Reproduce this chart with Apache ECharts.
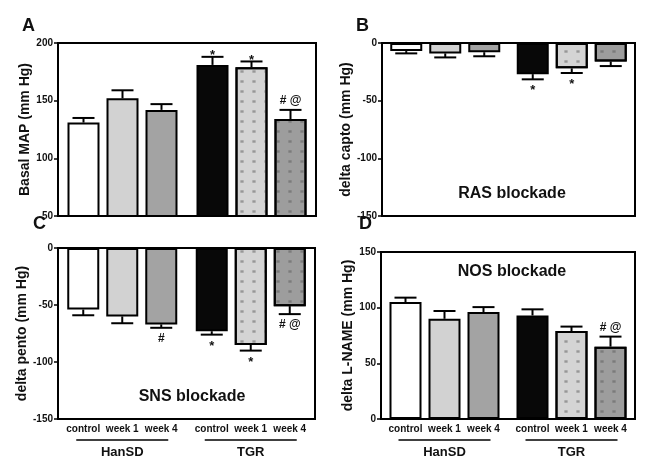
<!DOCTYPE html>
<html><head><meta charset="utf-8">
<script src="https://cdn.jsdelivr.net/npm/echarts@6/dist/echarts.min.js"></script>
<style>html,body{margin:0;padding:0;background:#fff}#c{width:649px;height:471px}</style>
</head><body><div id="c"></div>
<script>
// ---- data (order: HanSD control, week 1, week 4, TGR control, week 1, week 4)
const groups = ['HanSD', 'TGR'];
const timepoints = ['control', 'week 1', 'week 4'];

const mapValues = [131, 152, 142, 181, 179, 134];
const mapErrors = [4, 7, 5, 7, 5, 8];
const mapMarks = ['', '', '', '*', '*', '# @'];

const captoValues = [-7, -9, -8, -27, -22, -16];
const captoErrors = [2, 3.5, 3.5, 4.5, 4, 4];
const captoMarks = ['', '', '', '*', '*', ''];

const pentoValues = [-54, -60, -67, -73, -85, -51];
const pentoErrors = [5, 6, 3, 3, 5, 7];
const pentoMarks = ['', '', '#', '*', '*', '# @'];

const lnameValues = [105, 90, 96, 93, 79, 65];
const lnameErrors = [4, 7, 4.5, 5.5, 4, 9];
const lnameMarks = ['', '', '', '', '', '# @'];

const yTicksA = [50, 200, 50];
const yTicksB = [-150, 0, 50];
const yTicksC = [-150, 0, 50];
const yTicksD = [0, 150, 50];

// ---- styling
const FONT = 'Liberation Sans, Arial, sans-serif';
const fills = ['#ffffff', '#d2d2d2', '#a3a3a3', '#080808', '#d4d4d4', '#9d9d9d'];
const dotted = [false, false, false, false, true, true];
const decal = {symbol: 'rect', symbolSize: 0.8, dashArrayX: [4, 8], dashArrayY: [3, 7], color: 'rgba(90,90,90,0.5)'};
const BW = 32, GAP = 7;

const panels = [
  {vals: mapValues, errs: mapErrors, marks: mapMarks, ticks: yTicksA, name: 'Basal MAP (mm Hg)', gap: 19.5,
   grid: {left: 58, right: 333, top: 43, bottom: 255}, xlabels: false},
  {vals: captoValues, errs: captoErrors, marks: captoMarks, ticks: yTicksB, name: 'delta capto (mm Hg)', gap: 24,
   grid: {left: 382, right: 14, top: 43, bottom: 255}, xlabels: false},
  {vals: pentoValues, errs: pentoErrors, marks: pentoMarks, ticks: yTicksC, name: 'delta pento (mm Hg)', gap: 23,
   grid: {left: 58, right: 334, top: 248, bottom: 52}, xlabels: true},
  {vals: lnameValues, errs: lnameErrors, marks: lnameMarks, ticks: yTicksD, name: 'delta L-NAME (mm Hg)', gap: 19,
   grid: {left: 381, right: 14, top: 252, bottom: 52}, xlabels: true}
];

const grid = [], xAxis = [], yAxis = [], series = [];
panels.forEach((p, pi) => {
  grid.push(Object.assign({show: true, borderColor: '#000', borderWidth: 2, containLabel: false}, p.grid));
  xAxis.push({type: 'category', gridIndex: pi, data: groups, position: 'bottom',
    axisLine: {onZero: false, lineStyle: {color: '#000', width: 2}}, axisTick: {show: false},
    axisLabel: {show: p.xlabels, margin: 27, fontFamily: FONT, fontWeight: 'bold', fontSize: 13, color: '#111'}});
  yAxis.push({type: 'value', gridIndex: pi, min: p.ticks[0], max: p.ticks[1], interval: p.ticks[2],
    name: p.name, nameLocation: 'middle', nameGap: p.gap,
    nameTextStyle: {fontFamily: FONT, fontWeight: 'bold', fontSize: 14, color: '#111'},
    axisLine: {show: true, lineStyle: {color: '#000', width: 2}},
    axisTick: {show: true, length: 4, lineStyle: {color: '#000', width: 1.5}},
    axisLabel: {fontFamily: FONT, fontWeight: 'bold', fontSize: 10, color: '#111', margin: 5},
    splitLine: {show: false}});
  timepoints.forEach((t, k) => {
    const data = groups.map((g, gi) => {
      const i = gi * 3 + k;
      const st = {color: fills[i], borderColor: '#000', borderWidth: 2};
      if (dotted[i]) st.decal = decal;
      return {value: p.vals[i], itemStyle: st};
    });
    series.push({type: 'bar', name: t, xAxisIndex: pi, yAxisIndex: pi, data: data,
      barWidth: BW, barGap: (GAP / BW * 100) + '%', z: 2});
    // error bars, significance marks and timepoint labels
    series.push({type: 'custom', xAxisIndex: pi, yAxisIndex: pi, clip: false, z: 3,
      data: groups.map((g, gi) => [gi, p.vals[gi * 3 + k], p.errs[gi * 3 + k]]),
      renderItem: (params, api) => {
        const gi = api.value(0), v = api.value(1), e = api.value(2);
        const i = gi * 3 + k;
        const off = (k - 1) * (BW + GAP);
        const neg = v < 0;
        const p0 = api.coord([gi, v]);
        const p1 = api.coord([gi, neg ? v - e : v + e]);
        const x = p0[0] + off;
        const yb = api.coord([gi, p.ticks[0]])[1];
        const ls = {stroke: '#000', lineWidth: 2};
        const ch = [
          {type: 'line', shape: {x1: x, y1: p0[1], x2: x, y2: p1[1]}, style: ls},
          {type: 'line', shape: {x1: x - 11, y1: p1[1], x2: x + 11, y2: p1[1]}, style: ls}
        ];
        const m = p.marks[i];
        if (m) {
          const star = m === '*';
          const y = neg ? p1[1] + 5 : (star ? p1[1] + 5 : p1[1] - 3);
          ch.push({type: 'text', x: x, y: y,
            style: {text: m, fontFamily: FONT, fontWeight: 'bold', fontSize: star ? 13 : 12, fill: '#111',
              align: 'center', verticalAlign: neg ? 'top' : 'bottom'}});
        }
        if (p.xlabels) {
          ch.push({type: 'text', x: x, y: yb + 5,
            style: {text: timepoints[k], fontFamily: FONT, fontWeight: 'bold', fontSize: 10, fill: '#111',
              align: 'center', verticalAlign: 'top'}});
          if (k === 1) {
            ch.push({type: 'line', shape: {x1: x - 46, y1: yb + 21, x2: x + 46, y2: yb + 21},
              style: {stroke: '#000', lineWidth: 1.5}});
          }
        }
        return {type: 'group', children: ch};
      }});
  });
});

const txt = (t, left, top, size) => ({type: 'text', left: left, top: top,
  style: {text: t, fontFamily: FONT, fontWeight: 'bold', fontSize: size, fill: '#111'}});
const inner = (t, x, y) => ({type: 'text', x: x, y: y,
  style: {text: t, fontFamily: FONT, fontWeight: 'bold', fontSize: 16, fill: '#111', align: 'center', verticalAlign: 'middle'}});

const option = {
  animation: false,
  backgroundColor: '#fff',
  grid, xAxis, yAxis, series,
  graphic: [
    txt('A', 22, 17, 18), txt('B', 356, 17, 18), txt('C', 33, 215, 18), txt('D', 359, 215, 18),
    inner('RAS blockade', 512, 194), inner('SNS blockade', 192, 397), inner('NOS blockade', 512, 272)
  ]
};
const chart = echarts.init(document.getElementById('c'), null, {renderer: 'canvas'});
chart.setOption(option);
</script>
</body></html>
